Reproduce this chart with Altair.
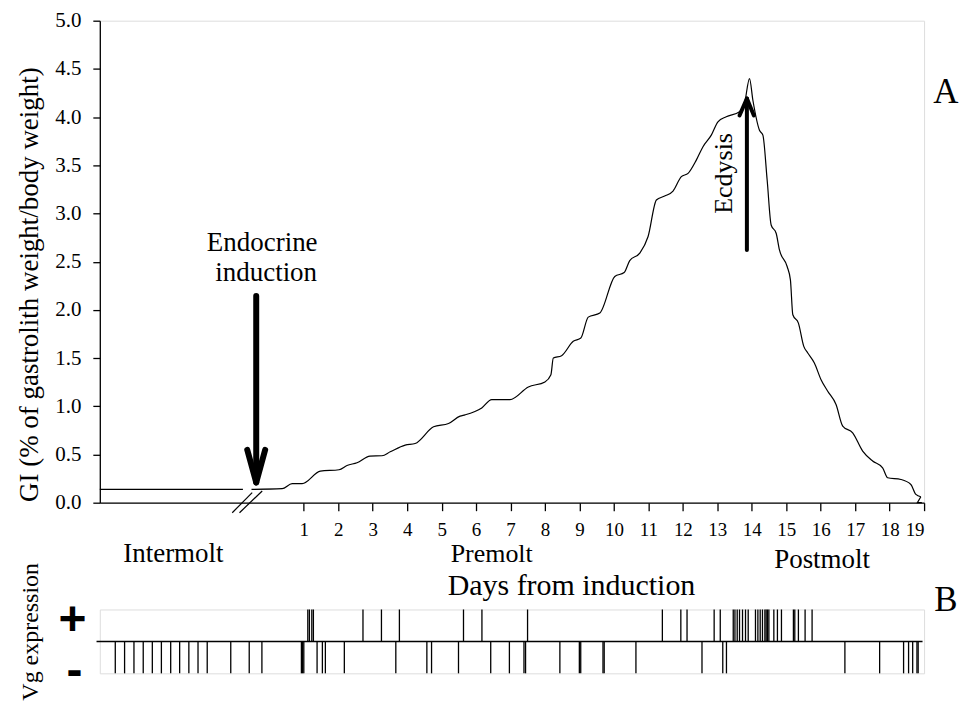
import altair as alt
import pandas as pd

FONT = "Liberation Serif"

# ---------------- Panel A: gastrolith index curve ----------------
inter_day = [-4.92, -0.767]
inter_gi = [0.138, 0.138]

curve_day = [-0.518, 0.372, 0.661, 0.951, 1.481, 2.022, 2.254, 2.544, 2.920, 3.268,
             3.508, 3.942, 4.232, 4.765, 5.199, 5.535, 5.680, 6.164, 6.453, 6.983,
             7.516, 7.997, 8.171, 8.240, 8.481, 8.819, 9.039, 9.254, 9.590, 10.024,
             10.296, 10.458, 10.748, 10.991, 11.232, 11.472, 11.715, 11.956, 12.150, 12.390,
             12.584, 12.825, 13.018, 13.259, 13.644, 13.789, 13.934, 14.032, 14.223, 14.322,
             14.446, 14.562, 14.707, 14.803, 15.026, 15.121, 15.191, 15.353, 15.509, 15.625,
             15.816, 16.010, 16.204, 16.445, 16.639, 16.928, 17.218, 17.507, 17.797, 17.942,
             18.327, 18.617, 18.762, 18.906]
curve_gi = [0.138, 0.145, 0.197, 0.197, 0.328, 0.342, 0.386, 0.414, 0.483, 0.487,
            0.528, 0.597, 0.614, 0.787, 0.821, 0.898, 0.911, 0.983, 1.069, 1.069,
            1.201, 1.253, 1.328, 1.501, 1.525, 1.674, 1.708, 1.925, 1.967, 2.347,
            2.388, 2.512, 2.588, 2.761, 3.140, 3.181, 3.233, 3.382, 3.416, 3.554,
            3.693, 3.813, 3.951, 4.003, 4.055, 4.141, 4.400, 4.175, 3.864, 3.813,
            3.347, 2.881, 2.795, 2.622, 2.450, 2.312, 1.949, 1.863, 1.622, 1.553,
            1.449, 1.276, 1.156, 1.018, 0.794, 0.725, 0.535, 0.432, 0.362, 0.259,
            0.241, 0.189, 0.086, 0.062]
# small zig-zag at the very end of the curve
tail_day = [18.906, 18.805, 18.935]
tail_gi = [0.062, 0.0, 0.0]

x_tick_values = list(range(1, 20))
y_tick_values = [0.0, 0.5, 1.0, 1.5, 2.0, 2.5, 3.0, 3.5, 4.0, 4.5, 5.0]

# axis-break slashes (day1, gi1, day2, gi2)
break_x1 = [-1.077, -0.866]
break_y1 = [-0.104, -0.104]
break_x2 = [-0.498, -0.208]
break_y2 = [0.104, 0.121]

# arrows: segments (shaft + two head strokes)
endo_x1 = [-0.381, -0.642, -0.121]
endo_y1 = [2.143, 0.549, 0.549]
endo_x2 = [-0.381, -0.381, -0.381]
endo_y2 = [0.228, 0.210, 0.210]

ecd_x1 = [13.858, 13.644, 14.061]
ecd_y1 = [2.622, 4.017, 4.017]
ecd_x2 = [13.858, 13.858, 13.858]
ecd_y2 = [4.190, 4.193, 4.193]

# annotations
ann_text = ["Endocrine", "induction", "Intermolt", "Premolt", "Postmolt", "Days from induction"]
ann_day = [-0.207, -0.092, -2.785, 6.453, 16.04, 8.768]
ann_gi = [2.692, 2.381, -0.53, -0.535, -0.595, -0.865]
ann_size = [27, 27, 27, 26, 27, 30]

# ---------------- Panel B: Vg expression ----------------
vg_pos = [1.116, 1.162, 1.232, 1.278, 2.717, 3.253, 3.774, 5.634, 6.169, 7.493,
          11.405, 11.941, 12.121, 12.908, 13.085, 13.462, 13.511, 13.577, 13.644, 13.731,
          13.818, 13.896, 14.107, 14.177, 14.244, 14.310, 14.380, 14.417, 14.455, 14.496,
          14.640, 14.744, 14.861, 15.208, 15.248, 15.353, 15.547, 15.750]
vg_neg = [-4.471, -4.201, -3.929, -3.660, -3.396, -3.133, -2.863, -2.603, -2.336, -2.070,
          -1.803, -1.120, -0.584, -0.216, 0.930, 0.965, 1.000, 1.385, 1.539, 1.626,
          2.176, 3.670, 4.571, 4.707, 5.489, 6.424, 6.966, 7.389, 7.435, 8.431,
          8.996, 9.036, 9.682, 9.717, 10.638, 12.555, 13.158, 13.265, 16.702, 17.710,
          18.405, 18.550, 18.669, 18.793, 18.828]

# ======================================================================
xdom = [-4.92, 19]
xscale = alt.Scale(domain=xdom, nice=False, zero=False)
yscale = alt.Scale(domain=[0, 5], nice=False, zero=False)

main_df = pd.DataFrame({"day": curve_day, "gi": curve_gi})
flat_df = pd.DataFrame({"day": inter_day, "gi": inter_gi})
tail_df = pd.DataFrame({"day": tail_day, "gi": tail_gi})
tail_df["ord"] = range(len(tail_df))

x_axis = alt.Axis(
    values=x_tick_values, format="d", title=None, grid=False,
    domainColor="black", domainWidth=1.3, tickColor="black", tickWidth=1.3, tickSize=8,
    labelFont=FONT, labelFontSize=19, labelColor="black", labelPadding=10)
y_axis = alt.Axis(
    values=y_tick_values, format=".1f", grid=False,
    title="GI (% of gastrolith weight/body weight)",
    titleFont=FONT, titleFontSize=27, titleFontWeight="normal", titleColor="black",
    titleAngle=270, titleX=-70, titleY=264, titleAlign="center", titleBaseline="middle",
    domainColor="black", domainWidth=1.3, tickColor="black", tickWidth=1.3, tickSize=7,
    labelFont=FONT, labelFontSize=21, labelColor="black", labelPadding=12)

main_line = alt.Chart(main_df).mark_line(color="black", strokeWidth=1.2,
                                         interpolate="monotone", clip=False).encode(
    x=alt.X("day:Q", scale=xscale, axis=x_axis),
    y=alt.Y("gi:Q", scale=yscale, axis=y_axis),
)
flat_line = alt.Chart(flat_df).mark_line(color="black", strokeWidth=1.2).encode(
    x=alt.X("day:Q", scale=xscale), y=alt.Y("gi:Q", scale=yscale))
tail_line = alt.Chart(tail_df).mark_line(color="black", strokeWidth=1.2, clip=False).encode(
    x=alt.X("day:Q", scale=xscale), y=alt.Y("gi:Q", scale=yscale), order="ord:Q")

brk_df = pd.DataFrame({"x1": break_x1, "y1": break_y1, "x2": break_x2, "y2": break_y2})
brk = alt.Chart(brk_df).mark_rule(color="black", strokeWidth=1.2, clip=False).encode(
    x=alt.X("x1:Q", scale=xscale), y=alt.Y("y1:Q", scale=yscale), x2="x2:Q", y2="y2:Q")

endo_df = pd.DataFrame({"x1": endo_x1, "y1": endo_y1, "x2": endo_x2, "y2": endo_y2})
endo = alt.Chart(endo_df).mark_rule(color="black", strokeWidth=6, strokeCap="round").encode(
    x=alt.X("x1:Q", scale=xscale), y=alt.Y("y1:Q", scale=yscale), x2="x2:Q", y2="y2:Q")

ecd_df = pd.DataFrame({"x1": ecd_x1, "y1": ecd_y1, "x2": ecd_x2, "y2": ecd_y2})
ecd = alt.Chart(ecd_df).mark_rule(color="black", strokeWidth=4, strokeCap="round").encode(
    x=alt.X("x1:Q", scale=xscale), y=alt.Y("y1:Q", scale=yscale), x2="x2:Q", y2="y2:Q")

ann_df = pd.DataFrame({"t": ann_text, "day": ann_day, "gi": ann_gi, "s": ann_size})
ann = alt.Chart(ann_df).mark_text(font=FONT, color="black", baseline="middle", align="center",
                                  clip=False).encode(
    x=alt.X("day:Q", scale=xscale), y=alt.Y("gi:Q", scale=yscale), text="t:N",
    size=alt.Size("s:Q", scale=None, legend=None))

ecd_txt = alt.Chart(pd.DataFrame({"t": ["Ecdysis"], "day": [13.20], "gi": [3.416]})).mark_text(
    font=FONT, fontSize=26, color="black", angle=270, baseline="middle", align="center").encode(
    x=alt.X("day:Q", scale=xscale), y=alt.Y("gi:Q", scale=yscale), text="t:N")

a_txt = alt.Chart(pd.DataFrame({"t": ["A"], "day": [19.63], "gi": [4.265]})).mark_text(
    font=FONT, fontSize=35, color="black", baseline="middle", align="center", clip=False).encode(
    x=alt.X("day:Q", scale=xscale), y=alt.Y("gi:Q", scale=yscale), text="t:N")

top = alt.layer(main_line, flat_line, tail_line, brk, endo, ecd, ann, ecd_txt, a_txt).properties(
    width=826, height=483)

# ---------------- bottom panel ----------------
xscale_b = alt.Scale(domain=xdom, nice=False, zero=False)
yscale_b = alt.Scale(domain=[-1, 1], nice=False, zero=False)

vg_df = pd.DataFrame({
    "day": vg_pos + vg_neg,
    "lo": [0] * len(vg_pos) + [-1] * len(vg_neg),
    "hi": [1] * len(vg_pos) + [0] * len(vg_neg),
})
vg_ticks = alt.Chart(vg_df).mark_rule(color="black", strokeWidth=1.3, clip=False).encode(
    x=alt.X("day:Q", scale=xscale_b, axis=None),
    y=alt.Y("lo:Q", scale=yscale_b, axis=None),
    y2="hi:Q")

base_df = pd.DataFrame({"a": [-5.015], "b": [18.955], "y": [0]})
baseline = alt.Chart(base_df).mark_rule(color="black", strokeWidth=1.5, clip=False).encode(
    x=alt.X("a:Q", scale=xscale_b, axis=None), x2="b:Q",
    y=alt.Y("y:Q", scale=yscale_b, axis=None))

sym_df = pd.DataFrame({"t": ["+", "-"], "day": [-5.710, -5.652], "v": [0.63, -0.95]})
syms = alt.Chart(sym_df).mark_text(font="Liberation Sans", fontWeight="bold", fontSize=48,
                                   color="black", baseline="middle", align="center",
                                   clip=False).encode(
    x=alt.X("day:Q", scale=xscale_b, axis=None), y=alt.Y("v:Q", scale=yscale_b, axis=None),
    text="t:N")

vg_lab = alt.Chart(pd.DataFrame({"t": ["Vg expression"], "day": [-6.926], "v": [0.30]})).mark_text(
    font=FONT, fontSize=24, color="black", angle=270, baseline="middle", align="center",
    clip=False).encode(
    x=alt.X("day:Q", scale=xscale_b, axis=None), y=alt.Y("v:Q", scale=yscale_b, axis=None),
    text="t:N")

b_txt = alt.Chart(pd.DataFrame({"t": ["B"], "day": [19.63], "v": [1.31]})).mark_text(
    font=FONT, fontSize=35, color="black", baseline="middle", align="center", clip=False).encode(
    x=alt.X("day:Q", scale=xscale_b, axis=None), y=alt.Y("v:Q", scale=yscale_b, axis=None),
    text="t:N")

bottom = alt.layer(vg_ticks, baseline, syms, vg_lab, b_txt).properties(width=826, height=64)

chart = alt.vconcat(top, bottom, spacing=107, bounds="flush").properties(
    padding={"left": 7, "top": 0, "right": 5, "bottom": 0}
).configure_view(stroke=None).configure(background="white")

chart.save("out.html", embed_options={"renderer": "svg", "actions": False})
